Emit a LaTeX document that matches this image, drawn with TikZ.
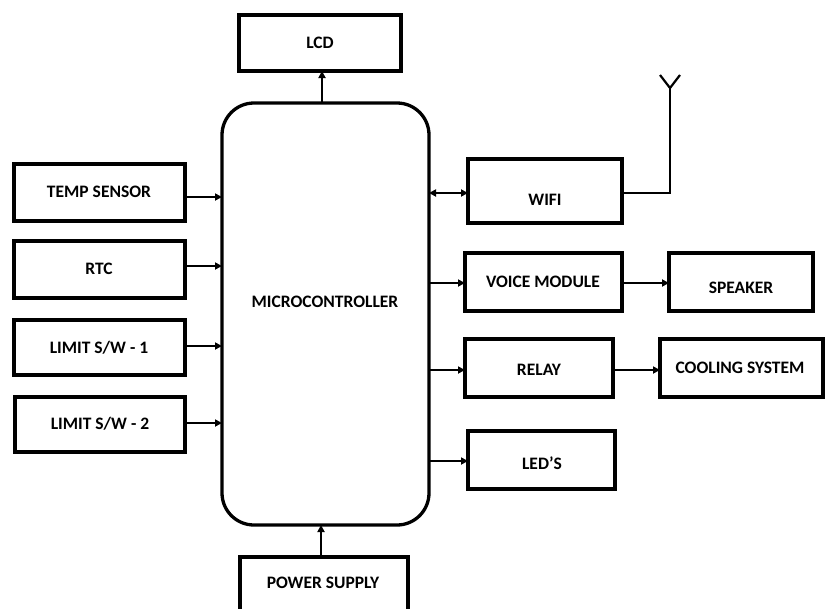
\documentclass[tikz,border=0pt]{standalone}
\usepackage{fontspec}
\setmainfont{Carlito}
\usetikzlibrary{arrows.meta}
\begin{document}
\begin{tikzpicture}[x=1pt,y=-1pt,
  blk/.style={draw,line width=3.3pt,minimum width=0pt},
  lbl/.style={font=\bfseries\fontsize{17.5}{19}\selectfont,inner sep=0pt},
  conn/.style={line width=2.2pt,-{Triangle[length=7pt,width=7pt]}},
  dconn/.style={line width=2.2pt,{Triangle[length=7pt,width=7pt]}-{Triangle[length=7pt,width=7pt]}}]
\useasboundingbox (0,0) rectangle (826,608);
% boxes
\draw[blk] (239,15) rectangle (401,71);
\node[lbl] (lcd) at (320,43) {LCD};
\coordinate (lcdB) at (322,71);
\draw[blk,rounded corners=32pt] (222,103) rectangle (429,525);
\node[lbl] (mcu) at (325,302) {MICROCONTROLLER};
\draw[blk] (14,164) rectangle (185,221);
\node[lbl] (temp) at (99,192) {TEMP SENSOR};
\draw[blk] (14,241) rectangle (185,298);
\node[lbl] (rtc) at (99,269) {RTC};
\draw[blk] (14,320) rectangle (185,375);
\node[lbl] (lim1) at (99,348) {LIMIT S/W - 1};
\draw[blk] (15,397) rectangle (185,452);
\node[lbl] (lim2) at (100,424) {LIMIT S/W - 2};
\draw[blk] (468,159) rectangle (622,223);
\node[lbl] (wifi) at (545,200) {WIFI};
\draw[blk] (465,253) rectangle (622,311);
\node[lbl] (voice) at (543,282) {VOICE MODULE};
\draw[blk] (669,253) rectangle (813,311);
\node[lbl] (spk) at (741,288) {SPEAKER};
\draw[blk] (465,339) rectangle (613,397);
\node[lbl] (relay) at (539,370) {RELAY};
\draw[blk] (660,339) rectangle (823,397);
\node[lbl] (cool) at (740,368) {COOLING SYSTEM};
\draw[blk] (468,431) rectangle (615,489);
\node[lbl] (led) at (542,463) {LED’S};
\draw[blk] (240,557) rectangle (408,620);
\node[lbl] (pwr) at (323,583) {POWER SUPPLY};
% connector anchor coordinates
\coordinate (mcuT) at (322,103);
\coordinate (mcuB) at (321,525);
\coordinate (pwrT) at (321,557);
\coordinate (tempR) at (185,197);
\coordinate (rtcR) at (185,266);
\coordinate (lim1R) at (185,346);
\coordinate (lim2R) at (185,423);
\coordinate (mcuL1) at (222,197);
\coordinate (mcuL2) at (222,266);
\coordinate (mcuL3) at (222,346);
\coordinate (mcuL4) at (222,423);
\coordinate (mcuR1) at (429,193);
\coordinate (wifiL) at (468,193);
\coordinate (wifiR) at (622,193);
\coordinate (antB) at (670,193);
\coordinate (antJ) at (670,88);
\coordinate (antA1) at (660,75);
\coordinate (antA2) at (680,75);
\coordinate (mcuR2) at (429,283);
\coordinate (voiceL) at (465,283);
\coordinate (voiceR) at (622,283);
\coordinate (spkL) at (669,283);
\coordinate (mcuR3) at (429,370);
\coordinate (relayL) at (465,370);
\coordinate (relayR) at (613,370);
\coordinate (coolL) at (660,370);
\coordinate (mcuR4) at (429,461);
\coordinate (ledL) at (468,461);
% connectors
\draw[conn] (mcuT) -- (lcdB);
\draw[conn] (pwrT) -- (mcuB);
\draw[conn] (tempR) -- (mcuL1);
\draw[conn] (rtcR) -- (mcuL2);
\draw[conn] (lim1R) -- (mcuL3);
\draw[conn] (lim2R) -- (mcuL4);
\draw[dconn] (mcuR1) -- (wifiL);
\draw[line width=2.2pt] (wifiR) -- (antB) -- (antJ);
\draw[line width=2.2pt] (antA1) -- (antJ) -- (antA2);
\draw[conn] (mcuR2) -- (voiceL);
\draw[conn] (voiceR) -- (spkL);
\draw[conn] (mcuR3) -- (relayL);
\draw[conn] (relayR) -- (coolL);
\draw[conn] (mcuR4) -- (ledL);
\end{tikzpicture}
\end{document}
